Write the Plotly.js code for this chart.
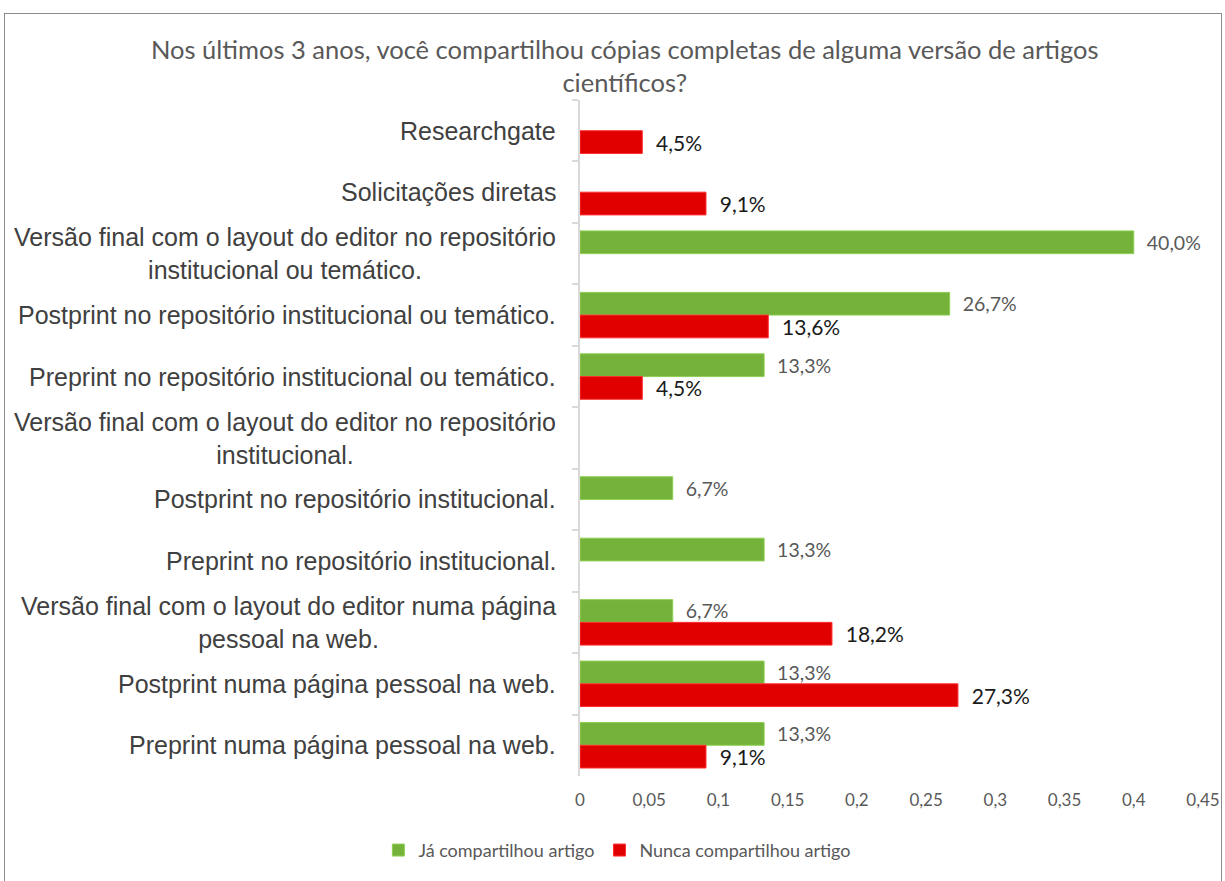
<!DOCTYPE html>
<html>
<head>
<meta charset="utf-8">
<script src="https://cdn.plot.ly/plotly-3.0.1.min.js"></script>
<style>
  body { margin: 0; background: #fff; }
  #chart { width: 1225px; height: 881px; }
  #frame { position: absolute; left: 4px; top: 13px; width: 1216px; height: 875px;
           border: 1px solid #8c8c8c; pointer-events: none; }
</style>
</head>
<body>
<div id="chart"></div>
<div id="frame"></div>
<script>
// categories, top to bottom
const categories = [
    "Researchgate",
    "Solicitações diretas",
    "Versão final com o layout do editor no repositório<br>institucional ou temático.",
    "Postprint no repositório institucional ou temático.",
    "Preprint no repositório institucional ou temático.",
    "Versão final com o layout do editor no repositório<br>institucional.",
    "Postprint no repositório institucional.",
    "Preprint no repositório institucional.",
    "Versão final com o layout do editor numa página<br>pessoal na web.",
    "Postprint numa página pessoal na web.",
    "Preprint numa página pessoal na web."
];

const jaCompartilhou = [null, null, 0.400, 0.267, 0.133, null, 0.067, 0.133, 0.067, 0.133, 0.133];
const nuncaCompartilhou = [0.045, 0.091, null, 0.136, 0.045, null, null, null, 0.182, 0.273, 0.091];

const xTickVals = [0, 0.05, 0.1, 0.15, 0.2, 0.25, 0.3, 0.35, 0.4, 0.45];
const xTickText = ["0", "0,05", "0,1", "0,15", "0,2", "0,25", "0,3", "0,35", "0,4", "0,45"];

const labelFont = "Lato, 'Open Sans', sans-serif";

function pct(v) {
    if (v === null) return "";
    return "\u00a0\u00a0" + (v * 100).toFixed(1).replace(".", ",") + "%";
}

const plotData = [
    {
        type: "bar", orientation: "h", name: "Já compartilhou artigo",
        y: categories, x: jaCompartilhou,
        text: jaCompartilhou.map(pct), textposition: "outside", cliponaxis: false,
        constraintext: "none",
        textfont: {family: labelFont, size: 19.5, color: "#595959"},
        marker: {color: "#74b23a", line: {color: "#8fd054", width: 1}},
        hoverinfo: "skip"
    },
    {
        type: "bar", orientation: "h", name: "Nunca compartilhou artigo",
        y: categories, x: nuncaCompartilhou,
        text: nuncaCompartilhou.map(pct), textposition: "outside", cliponaxis: false,
        constraintext: "none",
        textfont: {family: labelFont, size: 21, color: "#1a1a1a"},
        marker: {color: "#e00000", line: {color: "#ff3030", width: 1}},
        hoverinfo: "skip"
    }
];

// category labels as annotations so wrapped lines stay centred
const annotations = categories.map(c => ({
    xref: "paper", yref: "y", x: 0, y: c,
    text: c, showarrow: false, xanchor: "right", align: "center",
    xshift: -22,
    font: {family: "'Liberation Sans', Arial, sans-serif", size: 25, color: "#404040"}
}));

const layout = {
    width: 1225, height: 881,
    margin: {t: 100, r: 22, b: 99, l: 580},
    paper_bgcolor: "#ffffff", plot_bgcolor: "#ffffff",
    title: {
        text: "Nos últimos 3 anos, você compartilhou cópias completas de alguma versão de artigos<br>científicos?",
        font: {family: labelFont, size: 25.5, color: "#595959"},
        x: 0.51, xref: "container", xanchor: "center", y: 0.933, yref: "container", yanchor: "middle"
    },
    barmode: "group",
    bargap: 0.26,
    bargroupgap: 0,
    showlegend: true,
    legend: {
        orientation: "h", x: 0.06, xanchor: "center", y: -0.11, yanchor: "middle",
        font: {family: labelFont, size: 18, color: "#595959"},
        itemwidth: 30, traceorder: "normal"
    },
    xaxis: {
        range: [0, 0.45], tickvals: xTickVals, ticktext: xTickText,
        showgrid: false, zeroline: false, showline: false, ticks: "",
        tickfont: {family: labelFont, size: 17, color: "#595959"},
        ticklabelstandoff: 12
    },
    yaxis: {
        type: "category", autorange: "reversed",
        showticklabels: false, showgrid: false, zeroline: false,
        showline: true, linecolor: "#d9d9d9", linewidth: 2,
        ticks: "outside", tickson: "boundaries", ticklen: 6, tickcolor: "#d9d9d9", tickwidth: 2
    },
    annotations: annotations
};

Plotly.newPlot("chart", plotData, layout, {displayModeBar: false, staticPlot: true});
</script>
</body>
</html>
